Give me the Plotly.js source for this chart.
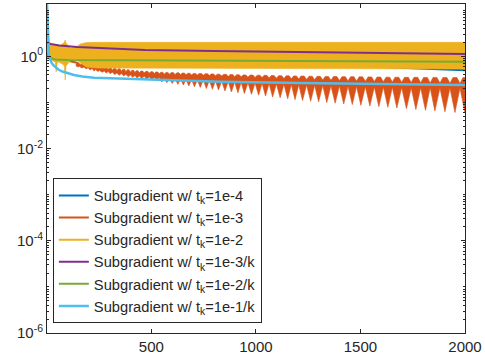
<!DOCTYPE html>
<html><head><meta charset="utf-8">
<script src="https://cdn.plot.ly/plotly-3.0.1.min.js"></script>
<style>html,body{margin:0;padding:0;background:#fff}#chart{width:485px;height:358px}</style>
</head><body><div id="chart"></div>
<script>
// ---- legend labels ----
const seriesNames = [
  'Subgradient w/ t<sub>k</sub>=1e-4',
  'Subgradient w/ t<sub>k</sub>=1e-3',
  'Subgradient w/ t<sub>k</sub>=1e-2',
  'Subgradient w/ t<sub>k</sub>=1e-3/k',
  'Subgradient w/ t<sub>k</sub>=1e-2/k',
  'Subgradient w/ t<sub>k</sub>=1e-1/k'
];
const seriesColors = ['#0072BD','#D95319','#EDB120','#7E2F8E','#77AC30','#4DBEEE'];

// ---- axis ticks ----
const xTickVals = [500, 1000, 1500, 2000];
const xTickText = ['500', '1000', '1500', '2000'];
const yTickVals = [1e-6, 1e-4, 1e-2, 1];
const yTickText = ['10<sup>-6</sup>', '10<sup>-4</sup>', '10<sup>-2</sup>', '10<sup>0</sup>'];

// ---- t_k = 1e-4 (mostly hidden behind the 1e-2 band) ----
const blueIter = [1, 10, 30, 100, 300, 600, 1000, 1400, 1800, 2000];
const blueVal  = [2.1, 1.8, 1.6, 1.35, 1.1, 0.9, 0.75, 0.64, 0.55, 0.505];

// ---- t_k = 1e-3 : early part, then oscillation "teeth" ----
const orangeLeadIter = [1, 30, 80, 120, 150];
const orangeLeadVal  = [1.6, 1.1, 0.85, 0.76, 0.72];
const orangeToothIter = [150,169,188,207,226,245,265,284,303,325,346,368,389,411,432,454,478,502,526,550,574,600,627,653,679,706,734,763,792,821,852,883,914,945,979,1013,1046,1080,1116,1152,1187,1223,1262,1300,1339,1379,1420,1461,1502,1545,1588,1631,1674,1720,1765,1811,1856,1904,1952,2000];
const orangeToothTop = [0.723,0.705,0.688,0.654,0.638,0.622,0.601,0.586,0.571,0.557,0.541,0.528,0.515,0.502,0.492,0.484,0.477,0.470,0.463,0.456,0.452,0.448,0.443,0.439,0.435,0.430,0.428,0.424,0.420,0.415,0.411,0.407,0.403,0.399,0.397,0.393,0.391,0.387,0.385,0.381,0.379,0.378,0.374,0.372,0.370,0.368,0.366,0.365,0.363,0.361,0.359,0.357,0.356,0.354,0.354,0.352,0.352,0.351,0.351,0.351];
const orangeWaistTop = [0.688,0.664,0.638,0.613,0.592,0.569,0.549,0.535,0.520,0.505,0.490,0.477,0.466,0.456,0.452,0.443,0.439,0.433,0.428,0.422,0.415,0.411,0.407,0.403,0.401,0.399,0.397,0.391,0.387,0.381,0.376,0.370,0.366,0.363,0.357,0.352,0.349,0.344,0.338,0.333,0.328,0.324,0.319,0.314,0.309,0.305,0.300,0.296,0.293,0.290,0.286,0.283,0.280,0.276,0.273,0.270,0.267,0.265,0.262,0.260];
const orangeWaistBot = [0.622,0.592,0.571,0.549,0.528,0.509,0.484,0.473,0.456,0.439,0.426,0.411,0.397,0.387,0.378,0.372,0.363,0.356,0.349,0.342,0.335,0.328,0.324,0.319,0.314,0.311,0.309,0.303,0.297,0.291,0.286,0.280,0.276,0.270,0.266,0.262,0.258,0.255,0.251,0.247,0.243,0.241,0.237,0.235,0.231,0.229,0.226,0.223,0.221,0.219,0.217,0.215,0.213,0.211,0.210,0.209,0.208,0.207,0.207,0.207];
const orangeToothTip = [0.592,0.563,0.535,0.509,0.484,0.473,0.456,0.439,0.424,0.407,0.391,0.378,0.365,0.354,0.342,0.333,0.317,0.305,0.294,0.280,0.270,0.260,0.249,0.241,0.229,0.221,0.213,0.202,0.194,0.188,0.179,0.170,0.163,0.157,0.151,0.145,0.139,0.132,0.127,0.121,0.116,0.111,0.107,0.104,0.100,0.0970,0.0933,0.0905,0.0874,0.0844,0.0818,0.0791,0.0764,0.0738,0.0708,0.0681,0.0658,0.0632,0.0610,0.0595];

// ---- t_k = 1e-2 : oscillation band (upper / lower envelopes) ----
const yellowIter  = [1, 20, 40, 45, 50, 55, 75, 84, 88, 92, 100, 115, 140, 160, 190, 240, 1000, 2000];
const yellowUpper = [1.96, 1.87, 1.82, 1.78, 1.73, 1.69, 1.87, 2.06, 2.28, 1.96, 1.78, 1.53, 1.61, 1.87, 2.01, 2.03, 2.03, 2.03];
const yellowLower = [0.928, 0.840, 0.760, 0.461, 0.723, 0.760, 0.688, 0.622, 0.309, 0.622, 0.688, 0.840, 0.883, 0.723, 0.592, 0.563, 0.555, 0.535];

// ---- t_k = 1e-3/k ----
const purpleIter = [1, 5, 20, 60, 145, 300, 470, 800, 1200, 1600, 2000];
const purpleVal  = [2.06, 1.96, 1.87, 1.73, 1.61, 1.47, 1.38, 1.32, 1.25, 1.19, 1.13];

// ---- t_k = 1e-2/k ----
const greenIter = [1, 5, 15, 40, 100, 500, 1000, 1500, 2000];
const greenVal  = [1.25, 1.025, 0.928, 0.861, 0.840, 0.819, 0.799, 0.783, 0.771];

// ---- t_k = 1e-1/k ----
const cyanIter = [1, 2, 3, 4, 5, 6, 8, 10, 13, 17, 22, 30, 40, 55, 75, 100, 130, 170, 226, 306, 466, 830, 1214, 2000];
const cyanVal  = [13.8, 9.2, 5.6, 3.4, 2.28, 1.78, 1.38, 1.13, 0.951, 0.840, 0.741, 0.654, 0.592, 0.522, 0.473, 0.433, 0.397, 0.368, 0.347, 0.337, 0.320, 0.284, 0.266, 0.241];

// ---- build orange teeth outline from the read tooth values ----
function teethOutline(c, top, wT, wB, tip) {
  const n = c.length, xs = [], ys = [];
  const halves = i => [
    (i > 0 ? c[i] - c[i-1] : c[1] - c[0]) / 2,
    (i < n-1 ? c[i+1] - c[i] : c[n-1] - c[n-2]) / 2
  ];
  for (let i = 0; i < n; i++) {
    const [l, r] = halves(i);
    xs.push(c[i] - l, c[i] - 0.4*l, c[i] + 0.4*r);
    ys.push(wT[i], top[i], top[i]);
  }
  { const [l, r] = halves(n-1); xs.push(c[n-1] + r); ys.push(wT[n-1]); }
  for (let i = n-1; i >= 0; i--) {
    const [l, r] = halves(i);
    xs.push(c[i] + r, c[i], c[i] - l);
    ys.push(wB[i], tip[i], wB[i]);
  }
  xs.push(xs[0]); ys.push(ys[0]);
  return {xs, ys};
}
const teeth = teethOutline(orangeToothIter, orangeToothTop, orangeWaistTop, orangeWaistBot, orangeToothTip);
const band = {
  xs: yellowIter.concat(yellowIter.slice().reverse(), [yellowIter[0]]),
  ys: yellowUpper.concat(yellowLower.slice().reverse(), [yellowUpper[0]])
};

const lineTrace = (x, y, i, w, extra) => Object.assign({
  type: 'scatter', mode: 'lines', x, y, name: seriesNames[i],
  line: {color: seriesColors[i], width: w}, legendrank: i + 1, hoverinfo: 'skip'
}, extra || {});

const traces = [
  lineTrace(blueIter, blueVal, 0, 2),
  lineTrace(orangeLeadIter, orangeLeadVal, 1, 2),
  {type:'scatter', mode:'lines', x: teeth.xs, y: teeth.ys, fill:'toself', fillcolor: seriesColors[1],
   line:{color: seriesColors[1], width: 0.6}, showlegend:false, hoverinfo:'skip'},
  {type:'scatter', mode:'lines', x: band.xs, y: band.ys, fill:'toself', fillcolor: seriesColors[2],
   line:{color: seriesColors[2], width: 0.6}, showlegend:false, hoverinfo:'skip'},
  lineTrace([null], [null], 2, 2),
  lineTrace(purpleIter, purpleVal, 3, 2),
  lineTrace(greenIter, greenVal, 4, 2),
  lineTrace(cyanIter, cyanVal, 5, 2.5)
];

const minorVals = [];
for (let e = -6; e <= 1; e++) for (let m = 1; m <= 9; m++) {
  if (m === 1 && e % 2 === 0 && e <= 0) continue;
  const v = m * Math.pow(10, e);
  if (Math.log10(v) <= 1.14) minorVals.push(v);
}

const axisCol = '#262626';
const fontFam = 'Liberation Sans, Arial, Helvetica, sans-serif';
const layout = {
  width: 485, height: 358,
  margin: {l: 47, r: 20, t: 4, b: 25},
  paper_bgcolor: '#fff', plot_bgcolor: '#fff',
  font: {family: fontFam, color: axisCol},
  showlegend: true,
  legend: {
    x: 0.014, y: 0.47, xanchor: 'left', yanchor: 'top',
    bgcolor: '#fff', bordercolor: axisCol, borderwidth: 1,
    font: {family: fontFam, size: 14.7, color: axisCol},
    traceorder: 'normal', itemwidth: 30
  },
  xaxis: {
    range: [1, 2000], tickmode: 'array', tickvals: xTickVals, ticktext: xTickText,
    ticks: 'inside', ticklen: 4, tickcolor: axisCol, showline: true, linecolor: axisCol,
    linewidth: 1, mirror: 'ticks', showgrid: false, zeroline: false,
    tickfont: {size: 15, color: axisCol, family: fontFam}
  },
  yaxis: {
    type: 'log', range: [-6, 1.14], tickmode: 'array', tickvals: yTickVals, ticktext: yTickText,
    ticks: 'inside', ticklen: 4, tickcolor: axisCol, showline: true, linecolor: axisCol,
    linewidth: 1, mirror: 'ticks', showgrid: false, zeroline: false,
    tickfont: {size: 15, color: axisCol, family: fontFam},
    minor: {ticks: 'inside', ticklen: 2, tickcolor: axisCol, tickmode: 'array', tickvals: minorVals, showgrid: false}
  }
};

Plotly.newPlot('chart', traces, layout, {staticPlot: true, displayModeBar: false});
</script></body></html>
